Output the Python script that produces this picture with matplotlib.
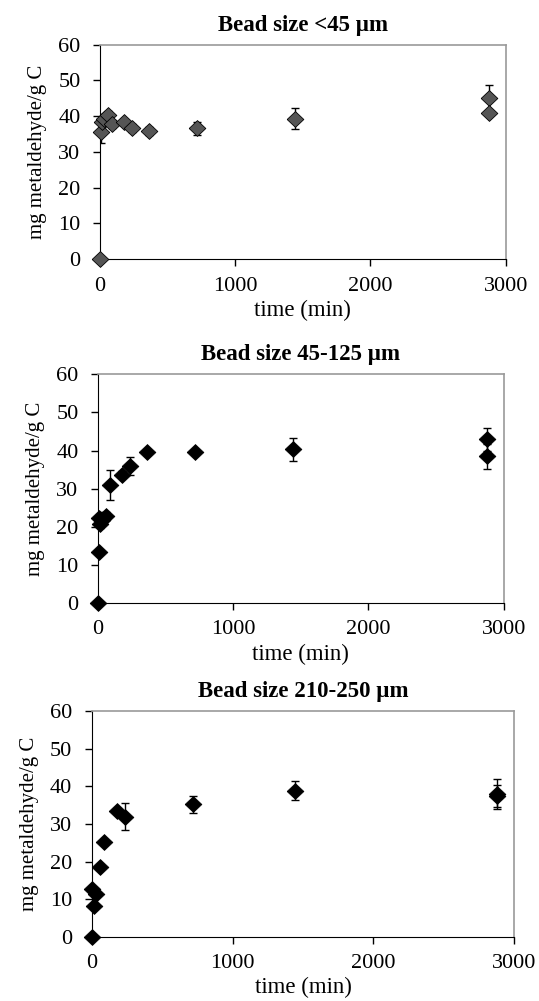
import matplotlib.pyplot as plt
import numpy as np

plt.rcParams['font.family'] = ['Liberation Serif', 'DejaVu Serif']

# Bead size <45 um
t1 = [0, 5, 15, 30, 60, 90, 180, 240, 360, 720, 1440, 2880, 2880]
q1 = [0, 35.6, 38.4, 39.3, 40.3, 37.8, 38.4, 36.7, 35.9, 36.6, 39.3, 45.1, 41.0]
e1 = [0, 3.2, 1.5, 1.2, 1.2, 1.0, 0.8, 1.0, 1.2, 1.8, 3.0, 3.5, 0.0]

# Bead size 45-125 um
t2 = [0, 5, 10, 15, 30, 60, 90, 180, 240, 360, 720, 1440, 2880, 2880]
q2 = [0, 13.3, 22.2, 20.8, 21.7, 22.9, 30.9, 33.7, 35.9, 39.7, 39.7, 40.3, 42.9, 38.5]
e2 = [0, 0.5, 1.8, 1.0, 1.0, 1.0, 4.0, 1.0, 2.3, 0.8, 0.5, 3.0, 3.0, 3.3]

# Bead size 210-250 um
t3 = [0, 5, 15, 30, 60, 90, 180, 240, 720, 1440, 2880, 2880]
q3 = [0, 12.6, 8.2, 11.4, 18.6, 25.2, 33.4, 31.9, 35.2, 38.9, 37.9, 37.4]
e3 = [0, 0.5, 0.5, 0.5, 0.8, 0.8, 0.8, 3.6, 2.3, 2.5, 4.0, 3.0]

titles = ['Bead size <45 \u00b5m', 'Bead size 45-125 \u00b5m', 'Bead size 210-250 \u00b5m']
xticks = [0, 1000, 2000, 3000]
yticks = [0, 10, 20, 30, 40, 50, 60]

fig = plt.figure(figsize=(5.39, 10.01), dpi=100)
rects = [[0.1855, 0.7410, 0.7527, 0.2144],
         [0.1818, 0.3976, 0.7527, 0.2285],
         [0.1701, 0.0642, 0.7841, 0.2252]]
data = [(t1, q1, e1, '#555555'), (t2, q2, e2, 'black'), (t3, q3, e3, 'black')]

diamond = [(-1, 0), (0, 0.95), (1, 0), (0, -0.95), (-1, 0)]

for rect, (t, q, e, fc), title in zip(rects, data, titles):
    ax = fig.add_axes(rect)
    ax.errorbar(t, q, yerr=e, fmt='none', ecolor='black', elinewidth=1,
                capsize=3, capthick=1, zorder=2)
    ax.plot(t, q, linestyle='none', marker=diamond, ms=12, mfc=fc, mec='black',
            mew=0.6, zorder=3, clip_on=False)
    ax.set_xlim(0, 3000)
    ax.set_ylim(0, 60)
    ax.set_xticks(xticks)
    ax.set_yticks(yticks)
    ax.tick_params(direction='out', length=5, width=1, labelsize=16, colors='black')
    ax.tick_params(axis='x', pad=7.5)
    ax.tick_params(axis='y', pad=9)
    for s in ['top', 'right']:
        ax.spines[s].set_color('#9a9a9a')
        ax.spines[s].set_linewidth(1.2)
    ax.spines['left'].set_color('black')
    ax.spines['bottom'].set_color('black')
    ax.set_title(title, fontsize=16.5, fontweight='bold', pad=10)
    ax.set_xlabel('time (min)', fontsize=16.5, labelpad=3)
    ax.set_ylabel('mg metaldehyde/g C', fontsize=15, labelpad=8)

fig.savefig('out.png', dpi=100)
